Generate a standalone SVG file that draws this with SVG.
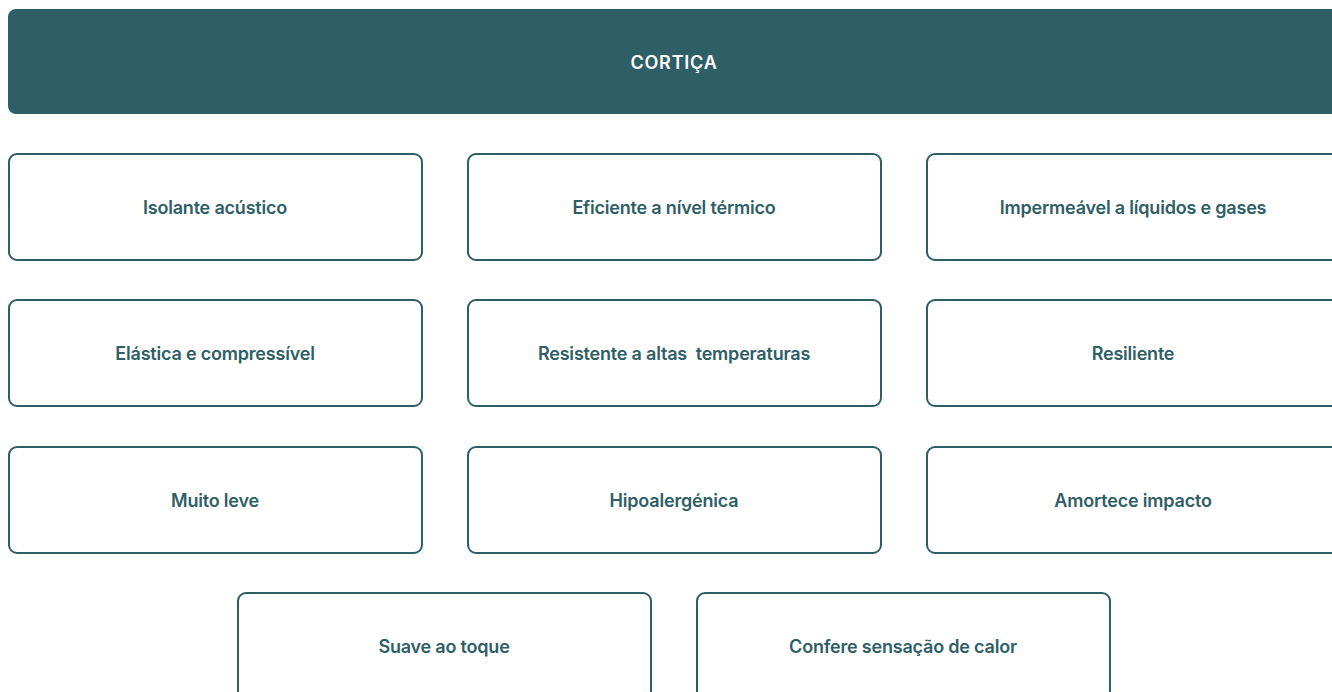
<svg xmlns="http://www.w3.org/2000/svg" width="1332" height="692" viewBox="0 0 1332 692">
<style>
.hdr{fill:#2e5e66}
.box{fill:#ffffff;stroke:#2e5e66;stroke-width:2}
.t{font-family:Inter,"Liberation Sans",sans-serif;font-weight:600;font-size:18px;fill:#2e5e66;text-anchor:middle;letter-spacing:-0.2px;white-space:pre}
.th{font-family:Inter,"Liberation Sans",sans-serif;font-weight:600;font-size:18px;fill:#ffffff;text-anchor:middle;letter-spacing:0.8px}
</style>
<rect width="1332" height="692" fill="#ffffff"/>
<g id="cortica">
<rect class="hdr" x="8" y="9" width="1340" height="105" rx="8"/>
<text class="th" x="674" y="69">CORTIÇA</text>
</g>
<g id="n1"><rect class="box" x="9" y="154" width="413" height="106" rx="8"/><text class="t" x="215" y="214">Isolante acústico</text></g>
<g id="n2"><rect class="box" x="468" y="154" width="413" height="106" rx="8"/><text class="t" x="674" y="214">Eficiente a nível térmico</text></g>
<g id="n3"><rect class="box" x="927" y="154" width="413" height="106" rx="8"/><text class="t" x="1133" y="214">Impermeável a líquidos e gases</text></g>
<g id="n4"><rect class="box" x="9" y="300" width="413" height="106" rx="8"/><text class="t" x="215" y="360">Elástica e compressível</text></g>
<g id="n5"><rect class="box" x="468" y="300" width="413" height="106" rx="8"/><text class="t" x="674" y="360" xml:space="preserve">Resistente a altas  temperaturas</text></g>
<g id="n6"><rect class="box" x="927" y="300" width="413" height="106" rx="8"/><text class="t" x="1133" y="360">Resiliente</text></g>
<g id="n7"><rect class="box" x="9" y="447" width="413" height="106" rx="8"/><text class="t" x="215" y="507">Muito leve</text></g>
<g id="n8"><rect class="box" x="468" y="447" width="413" height="106" rx="8"/><text class="t" x="674" y="507">Hipoalergénica</text></g>
<g id="n9"><rect class="box" x="927" y="447" width="413" height="106" rx="8"/><text class="t" x="1133" y="507">Amortece impacto</text></g>
<g id="n10"><rect class="box" x="238" y="593" width="413" height="106" rx="8"/><text class="t" x="444" y="653">Suave ao toque</text></g>
<g id="n11"><rect class="box" x="697" y="593" width="413" height="106" rx="8"/><text class="t" x="903" y="653">Confere sensação de calor</text></g>
<g id="connectors"/>
</svg>
